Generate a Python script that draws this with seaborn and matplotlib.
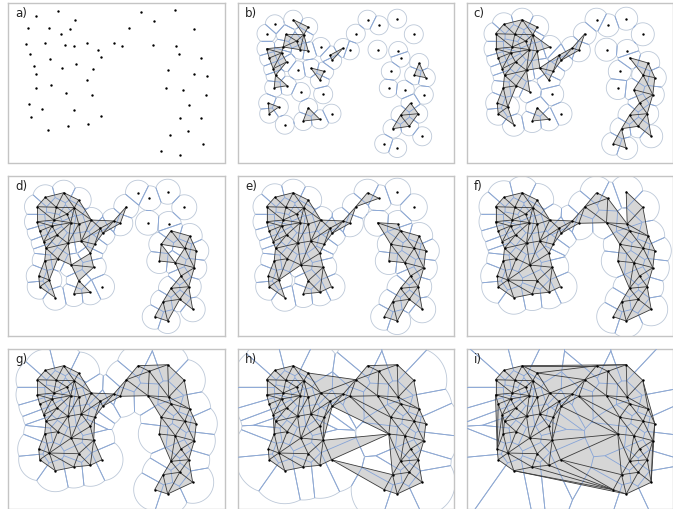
import numpy as np
import matplotlib
matplotlib.use("Agg")
import matplotlib.pyplot as plt
import matplotlib.tri as mtri
import seaborn as sns
from matplotlib.collections import LineCollection, PolyCollection

# ===================================
# Data (pixel coords inside each panel frame)
# ===================================

# panel a: raw sample
a_x = [50, 28.3, 66.7, 20, 41, 61.7, 52.7, 133.3, 166.7, 146, 121, 185.7,
       18.3, 36.7, 57.3, 66, 79, 90, 105.7, 114, 145, 167.7, 22.3, 93.3,
       170.7, 193.3, 41.7, 25.7, 54, 68.3, 85, 28.3, 79.3, 160, 185.7, 199,
       28.3, 42.7, 58.3, 84, 157.7, 175, 197.7, 20.7, 34.3, 65.7, 181, 22.7,
       93.3, 171.7, 192.7, 40, 60, 80, 180, 161.7, 195, 152.7, 171.7]
a_y = [8, 13.3, 16.7, 24.7, 24.7, 25.7, 31.3, 9, 6.7, 18, 24.7, 25.7,
       40.7, 39.7, 42.3, 43, 39.7, 46.7, 39.7, 42.7, 41.7, 43.3, 50.7, 54,
       50.7, 55, 56.3, 63, 65, 61.3, 66.3, 71.3, 76.7, 66.7, 70.7, 73.3,
       84.7, 82.3, 90, 92.3, 85, 86.7, 92.3, 101.3, 106, 107.3, 101.7, 114,
       113.3, 115, 114.7, 126.7, 123, 120.7, 128.3, 132.3, 140.7, 148, 152.3]

# panels b-i: point set used for the alpha shapes
px = [55.7, 37.3, 70.7, 29, 48.3, 66.3, 59, 45.7, 62.7, 70.7,
      29, 44, 31.7, 49, 35.7, 38, 36.7, 49.7, 60, 73.3,
      86.7, 82.3, 83.3, 92.3, 105.7, 94.7, 112.3, 118.3, 130, 63.3,
      85.7, 30.7, 41.3, 31.7, 70.7, 94, 47.3, 65.7, 82.3,
      141.3, 159.7, 176.3, 140, 160.7, 163, 181.7, 176.7, 188.3, 153.3,
      151.3, 167.3, 186.3, 173, 180.7, 163, 155, 171.7, 184.7, 146.7, 159.7]
py = [16.7, 21.3, 24, 30.7, 31.3, 31.7, 38, 44, 46.7, 48,
      45.7, 50, 55, 59, 65.7, 72.3, 84.7, 82.7, 67.3, 65,
      68.3, 77.3, 44, 52.3, 45, 57.3, 47.3, 30.7, 16.7, 89,
      91.3, 100, 104, 110.7, 104.7, 110.7, 121.7, 118, 116.3,
      22.3, 15.7, 31.3, 46.7, 48, 54.7, 60, 72.3, 74.7, 68.3,
      85, 86.7, 91.7, 100, 110.7, 112.3, 125.7, 123.3, 133.3, 140.7, 145]

labels = ["a)", "b)", "c)", "d)", "e)", "f)", "g)", "h)", "i)"]
radii = [None, 9.5, 11.5, 12.5, 13.5, 16.5, 21, 33, 5000]

# ===================================
# Geometry helpers
# ===================================

P = np.column_stack([px, py])
tri = mtri.Triangulation(P[:, 0], P[:, 1])
T = tri.triangles


def circumcircle(a, b, c):
    d = 2 * (a[0] * (b[1] - c[1]) + b[0] * (c[1] - a[1]) + c[0] * (a[1] - b[1]))
    a2, b2, c2 = a @ a, b @ b, c @ c
    ux = (a2 * (b[1] - c[1]) + b2 * (c[1] - a[1]) + c2 * (a[1] - b[1])) / d
    uy = (a2 * (c[0] - b[0]) + b2 * (a[0] - c[0]) + c2 * (b[0] - a[0])) / d
    cc = np.array([ux, uy])
    return cc, np.linalg.norm(cc - a)


centers = []
cradius = []
for t in T:
    cc, rr = circumcircle(P[t[0]], P[t[1]], P[t[2]])
    centers.append(cc)
    cradius.append(rr)
centers = np.array(centers)
cradius = np.array(cradius)

edge_tris = {}
for k, t in enumerate(T):
    for u, v in [(t[0], t[1]), (t[1], t[2]), (t[2], t[0])]:
        edge_tris.setdefault((min(u, v), max(u, v)), []).append(k)

# dual voronoi segment of each delaunay edge
vor_seg = {}
for (i, j), ts in edge_tris.items():
    if len(ts) == 2:
        vor_seg[(i, j)] = (centers[ts[0]], centers[ts[1]])
    else:
        t = T[ts[0]]
        k = [v for v in t if v != i and v != j][0]
        e = P[j] - P[i]
        d = np.array([-e[1], e[0]]) / np.linalg.norm(e)
        mid = (P[i] + P[j]) / 2
        if d @ (P[k] - mid) > 0:
            d = -d
        c0 = centers[ts[0]]
        vor_seg[(i, j)] = (c0, c0 + d * 20000)

neighbors = {i: set() for i in range(len(P))}
for i, j in edge_tris:
    neighbors[i].add(j)
    neighbors[j].add(i)


def seg_in_disc(p, a, b, r):
    d = b - a
    f = a - p
    A = d @ d
    B = 2 * (f @ d)
    C = f @ f - r * r
    disc = B * B - 4 * A * C
    if disc <= 0:
        return None
    s = np.sqrt(disc)
    t1 = max((-B - s) / (2 * A), 0)
    t2 = min((-B + s) / (2 * A), 1)
    if t1 >= t2:
        return None
    return [a + t1 * d, a + t2 * d]


def clip(poly, m, nv):
    out = []
    for idx in range(len(poly)):
        s = poly[idx - 1]
        e = poly[idx]
        ds = (s - m) @ nv
        de = (e - m) @ nv
        if de <= 0:
            if ds > 0:
                out.append(s + (e - s) * ds / (ds - de))
            out.append(e)
        elif ds <= 0:
            out.append(s + (e - s) * ds / (ds - de))
    return out


ang = np.linspace(0, 2 * np.pi, 240, endpoint=False)

# ===================================
# Layout
# ===================================

sns.set_style("white")
fig = plt.figure(figsize=(6.73, 5.09), dpi=100)

col_left = [8, 237.5, 466.5]
col_w = [217, 216, 206]
row_top = [3, 176, 349]
row_h = 159.5

fill_col = "#d6d6d6"
edge_col = "#3a3a3a"
vor_col = "#86a4d6"
arc_col = "#bcc8d8"

for n in range(9):
    r_i, c_i = divmod(n, 3)
    ax = fig.add_axes([col_left[c_i] / 673, 1 - (row_top[r_i] + row_h) / 509,
                       col_w[c_i] / 673, row_h / 509])
    ax.set_xlim(0, col_w[c_i])
    ax.set_ylim(row_h, 0)
    ax.set_xticks([])
    ax.set_yticks([])
    for sp in ax.spines.values():
        sp.set_color("#c4c4c4")
        sp.set_linewidth(1.0)
    ax.text(0.035, 0.975, labels[n], transform=ax.transAxes, ha="left",
            va="top", fontsize=8.5, color="#222222", zorder=10)

    if n == 0:
        sns.scatterplot(x=a_x, y=a_y, ax=ax, color="black", s=3,
                        linewidth=0, zorder=5)
        continue

    r = radii[n]

    # union of balls cut by voronoi cells
    cells = []
    for i in range(len(P)):
        poly = [P[i] + r * np.array([np.cos(a), np.sin(a)]) for a in ang]
        for j in neighbors[i]:
            m = (P[i] + P[j]) / 2
            poly = clip(poly, m, P[j] - P[i])
            if not poly:
                break
        if poly:
            cells.append(np.array(poly))
    ax.add_collection(PolyCollection(cells, facecolors="none",
                                     edgecolors=arc_col, linewidths=0.6,
                                     zorder=1))

    # alpha complex triangles
    keep = [T[k] for k in range(len(T)) if cradius[k] <= r]
    if keep:
        ax.add_collection(PolyCollection([P[t] for t in keep],
                                         facecolors=fill_col,
                                         edgecolors="none", zorder=2))

    # restricted voronoi edges
    vsegs = []
    for (i, j), (a, b) in vor_seg.items():
        part = seg_in_disc(P[i], a, b, r)
        if part is not None:
            vsegs.append(part)
    ax.add_collection(LineCollection(vsegs, colors=vor_col, linewidths=0.6,
                                     zorder=3))

    # edges of the kept triangles
    dsegs = set()
    for t in keep:
        for u, v in [(t[0], t[1]), (t[1], t[2]), (t[2], t[0])]:
            dsegs.add((min(u, v), max(u, v)))
    ax.add_collection(LineCollection([[P[i], P[j]] for i, j in dsegs],
                                     colors=edge_col, linewidths=0.6,
                                     zorder=4))

    sns.scatterplot(x=P[:, 0], y=P[:, 1], ax=ax, color="black", s=3,
                    linewidth=0, zorder=5)
    ax.set_xlim(0, col_w[c_i])
    ax.set_ylim(row_h, 0)

fig.savefig("out.png", dpi=100)
